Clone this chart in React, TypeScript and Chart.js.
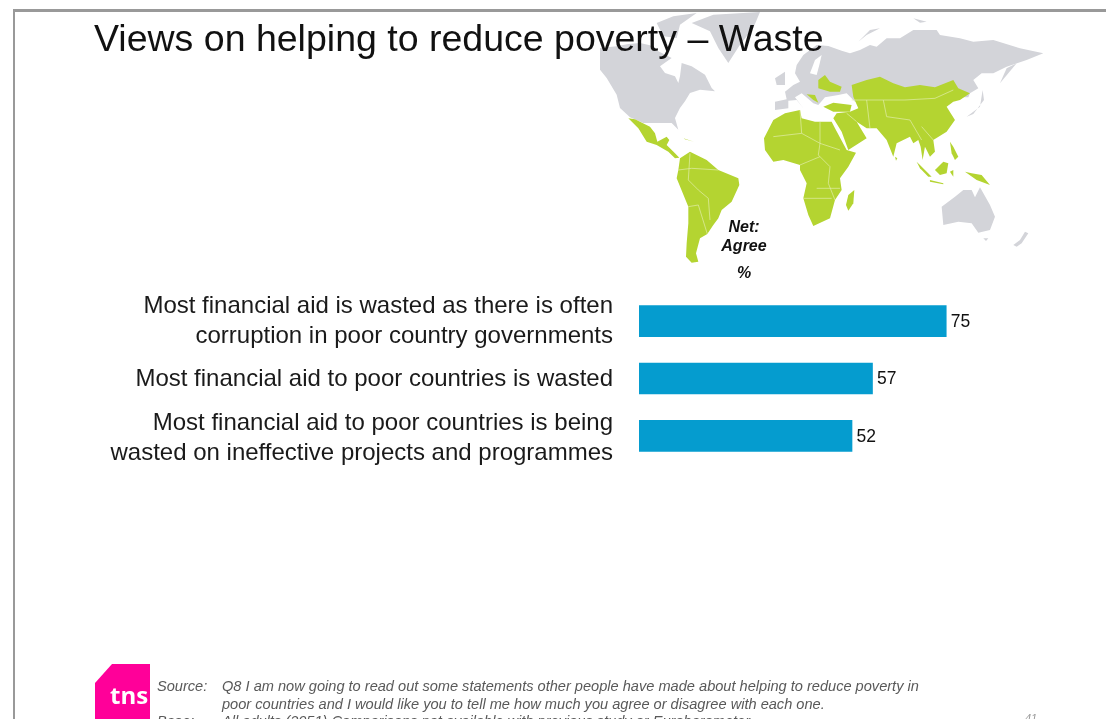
import React, { useEffect, useRef } from "react";
import { Chart, registerables } from "chart.js";

Chart.register(...registerables);

const statements: string[][] = [
  ["Most financial aid is wasted as there is often", "corruption in poor country governments"],
  ["Most financial aid to poor countries is wasted"],
  ["Most financial aid to poor countries is being", "wasted on ineffective projects and programmes"],
];
const netAgree: number[] = [75, 57, 52];
const axisMax = 114;

const SANS = '"Liberation Sans", Arial, sans-serif';
const GREY = "#d3d4d9";
const LIME = "#b4d431";

// Map outlines, each set in its own local grid (see the group transforms below).
const northAmerica = [
  "0,120 50,115 85,108 120,105 150,112 175,130 215,150 180,175 195,195 225,205 235,225 240,205 245,165 275,175 315,200 335,240 345,250 300,245 270,255 255,280 240,300 225,330 235,365 215,345 165,345 130,345 90,328 60,300 50,260 20,210 0,185",
  "170,45 220,25 290,15 240,50 230,90 190,85",
  "275,45 340,20 480,12 460,60 420,110 385,165 355,120 330,70",
];
const americasGreen = [
  "25,25 45,28 90,50 105,70 112,95 140,80 148,90 140,105 165,130 178,143 165,145 145,125 110,105 80,95 55,55",
  "180,145 210,125 260,150 295,180 355,205 358,225 335,275 305,300 295,325 280,345 262,372 240,385 228,430 235,455 215,458 198,440 200,400 205,340 205,290 170,205 175,180",
  "165,70 190,85 222,95 195,88",
];
const americasBorders = [
  "210,130 205,210 235,240 265,265 270,330",
  "175,180 215,175 295,180",
  "205,290 235,285 262,372",
];
const africa = [
  "40,60 75,40 120,30 125,55 165,65 215,65 225,85 260,150 288,158 265,200 240,235 245,270 225,300 210,355 160,378 145,345 130,295 140,250 120,210 120,195 70,180 40,185 15,150 12,115",
  "283,270 280,310 265,332 258,315 265,285",
];
const africaBorders = [
  "120,30 125,100 180,130 175,165 210,200 205,250 225,300",
  "40,110 125,100",
  "180,65 180,130 240,150",
  "120,195 180,170",
  "130,295 215,295",
  "170,265 240,265",
];
const eurasiaGrey = [
  "45,300 45,275 80,268 75,245 100,225 120,215 105,190 110,165 130,135 170,105 205,108 245,122 270,130 300,120 330,105 350,110 380,85 420,85 460,60 530,60 540,75 600,85 640,95 700,90 780,115 850,130 800,150 740,170 700,190 665,190 640,210 655,235 630,250 625,262 500,260 350,260 285,275 260,250 235,255 195,262 175,285 160,280 125,250 105,262 130,295 110,270 85,272 85,295",
  "45,205 75,185 75,225 50,225",
  "720,220 740,175 770,160 745,190",
  "620,320 660,290 668,240 672,270 640,312",
  "295,95 330,60 360,55 320,75",
  "460,25 500,35 480,38",
];
const balticSea = ["150,190 165,150 185,135 178,165 170,195"];
const asiaGreen = [
  "670,320 700,308 755,315 750,335 700,335",
  "755,255 800,240 840,230 880,250 915,262 960,255 1005,262 1060,240 1075,265 1110,280 1080,300 1060,305 1040,320 1065,360 1040,395 1000,420 1005,455 990,470 975,440 968,480 962,440 955,420 940,430 930,410 890,430 880,470 860,420 830,385 800,385 770,365 800,415 745,450 725,395 700,355 710,340 750,335 775,325 760,290",
  "950,485 975,510 995,530 985,530 960,505",
  "990,540 1030,550 1030,553 990,545",
  "1005,510 1030,485 1045,490 1040,520 1020,525",
  "1050,515 1060,510 1060,530",
  "1050,425 1060,440 1075,470 1065,480 1055,460",
  "1095,515 1115,520 1145,525 1170,555 1130,540",
  "885,470 892,475 888,482",
  "655,240 675,225 690,245 725,260 720,275 690,275 655,265",
  "620,283 645,285 655,308 640,300",
];
const asiaBorders = [
  "755,300 850,300 915,300 1005,295 1060,270",
  "800,300 810,385",
  "850,300 860,350 930,360 965,420",
  "740,340 770,365",
  "965,380 1000,420",
];
const australasia = [
  "125,290 165,260 190,240 215,240 225,262 240,232 270,285 285,320 270,360 235,368 215,340 175,335 130,345",
  "250,385 265,385 258,393",
  "340,405 360,390 375,365 385,370 365,400 350,410",
];

const pts = (list: string[], fill: string) =>
  list.map((p, i) => <polygon key={i} points={p} fill={fill} />);
const rules = (list: string[]) =>
  list.map((p, i) => (
    <polyline key={i} points={p} fill="none" stroke="#e4efb0" strokeWidth={2} />
  ));

function WorldMap() {
  return (
    <svg
      width={1106}
      height={719}
      style={{ position: "absolute", left: 0, top: 0, filter: "blur(0.5px)" }}
    >
      <g transform="translate(600,8) scale(0.3333)">{pts(northAmerica, GREY)}</g>
      <g transform="translate(760,10) scale(0.3333)">
        {pts(eurasiaGrey, GREY)}
        {pts(balticSea, "#fff")}
      </g>
      <g transform="translate(620,110) scale(0.3333)">
        {pts(americasGreen, LIME)}
        {rules(americasBorders)}
      </g>
      <g transform="translate(760,100) scale(0.3333)">
        {pts(africa, LIME)}
        {rules(africaBorders)}
      </g>
      <g transform="translate(600,0) scale(0.3333)">
        {pts(asiaGreen, LIME)}
        {rules(asiaBorders)}
      </g>
      <g transform="translate(900,110) scale(0.3333)">{pts(australasia, GREY)}</g>
    </svg>
  );
}

const LINE_HEIGHT = 30;
const LABEL_RIGHT_GAP = 26;
// The lower two statements sit slightly below the centre of their bars.
const labelDrop = [0, 0.5, 3];

// Values to the right of each bar.
const valueLabels = {
  id: "valueLabels",
  afterDatasetsDraw(chart: Chart) {
    const { ctx } = chart;
    ctx.save();
    ctx.font = `17.5px ${SANS}`;
    ctx.fillStyle = "#111111";
    ctx.textBaseline = "middle";
    chart.getDatasetMeta(0).data.forEach((bar: any, i: number) => {
      ctx.fillText(String(netAgree[i]), bar.x + 4.5, bar.y + 1);
    });
    ctx.restore();
  },
};

// Statements to the left of the bars, placed on the category scale.
const statementLabels = {
  id: "statementLabels",
  afterDraw(chart: Chart) {
    const { ctx } = chart;
    const y = chart.scales.y;
    ctx.save();
    ctx.font = `24px ${SANS}`;
    ctx.fillStyle = "#1a1a1a";
    ctx.textAlign = "right";
    ctx.textBaseline = "middle";
    statements.forEach((lines, i) => {
      const centre = y.getPixelForTick(i) + labelDrop[i];
      lines.forEach((line, n) => {
        const offset = (n - (lines.length - 1) / 2) * LINE_HEIGHT;
        ctx.fillText(line, y.right - LABEL_RIGHT_GAP, centre + offset);
      });
    });
    ctx.restore();
  },
};

const text = (
  content: string,
  left: number,
  top: number,
  style: React.CSSProperties = {}
) => (
  <div
    style={{
      position: "absolute",
      left,
      top,
      fontFamily: SANS,
      whiteSpace: "nowrap",
      ...style,
    }}
  >
    {content}
  </div>
);

export default function App() {
  const canvasRef = useRef<HTMLCanvasElement>(null);

  useEffect(() => {
    const chart = new Chart(canvasRef.current!, {
      type: "bar",
      data: {
        labels: statements,
        datasets: [
          {
            data: netAgree,
            backgroundColor: "#059ccf",
            barThickness: 31,
          },
        ],
      },
      plugins: [valueLabels, statementLabels],
      options: {
        indexAxis: "y",
        responsive: false,
        animation: false,
        layout: { padding: { top: 292.5, bottom: 254.5, left: 0, right: 0 } },
        plugins: { legend: { display: false }, tooltip: { enabled: false } },
        scales: {
          x: { display: false, min: 0, max: axisMax },
          y: {
            afterFit(scale: any) {
              scale.width = 639;
            },
            grid: { display: false, drawTicks: false },
            border: { display: false },
            ticks: { display: false },
          },
        },
      },
    });
    return () => chart.destroy();
  }, []);

  const italic: React.CSSProperties = {
    fontStyle: "italic",
    fontSize: 14.6,
    color: "#595959",
  };
  const netLabel: React.CSSProperties = {
    width: 60,
    textAlign: "center",
    fontStyle: "italic",
    fontWeight: "bold",
    fontSize: 16,
    color: "#111",
  };

  return (
    <div
      style={{
        position: "absolute",
        left: 0,
        top: 0,
        width: 1106,
        height: 719,
        overflow: "hidden",
        background: "#fff",
      }}
    >
      <div
        style={{
          position: "absolute",
          left: 13,
          top: 9,
          width: 1106,
          height: 730,
          borderTop: "3px solid #999",
          borderLeft: "2px solid #999",
        }}
      />
      <WorldMap />
      <canvas
        ref={canvasRef}
        width={1106}
        height={719}
        style={{ position: "absolute", left: 0, top: 0 }}
      />
      {text("Views on helping to reduce poverty – Waste", 94, 17, {
        fontSize: 37.5,
        color: "#111",
      })}
      {text("Net:", 714, 218, netLabel)}
      {text("Agree", 714, 237, netLabel)}
      {text("%", 714, 264, netLabel)}

      <svg
        width={60}
        height={60}
        style={{ position: "absolute", left: 94, top: 662 }}
      >
        <polygon points="1,21 18,2 56,2 56,57 1,57" fill="#ff0099" />
      </svg>
      {text("tns", 110, 678, {
        fontSize: 24,
        fontWeight: "bold",
        color: "#fff",
        fontFamily: '"Open Sans", sans-serif',
      })}
      {text("Source:", 157, 678, italic)}
      {text(
        "Q8 I am now going to read out some statements other people have made about helping to reduce poverty in",
        222,
        678,
        italic
      )}
      {text(
        "poor countries and I would like you to tell me how much you agree or disagree with each one.",
        222,
        696,
        italic
      )}
      {text("Base:", 157, 713, italic)}
      {text("All adults (2051) Comparisons not available with previous study or Eurobarometer", 222, 713, italic)}
      {text("41", 1025, 712, { ...italic, fontSize: 11, color: "#9a9a9a" })}
    </div>
  );
}
